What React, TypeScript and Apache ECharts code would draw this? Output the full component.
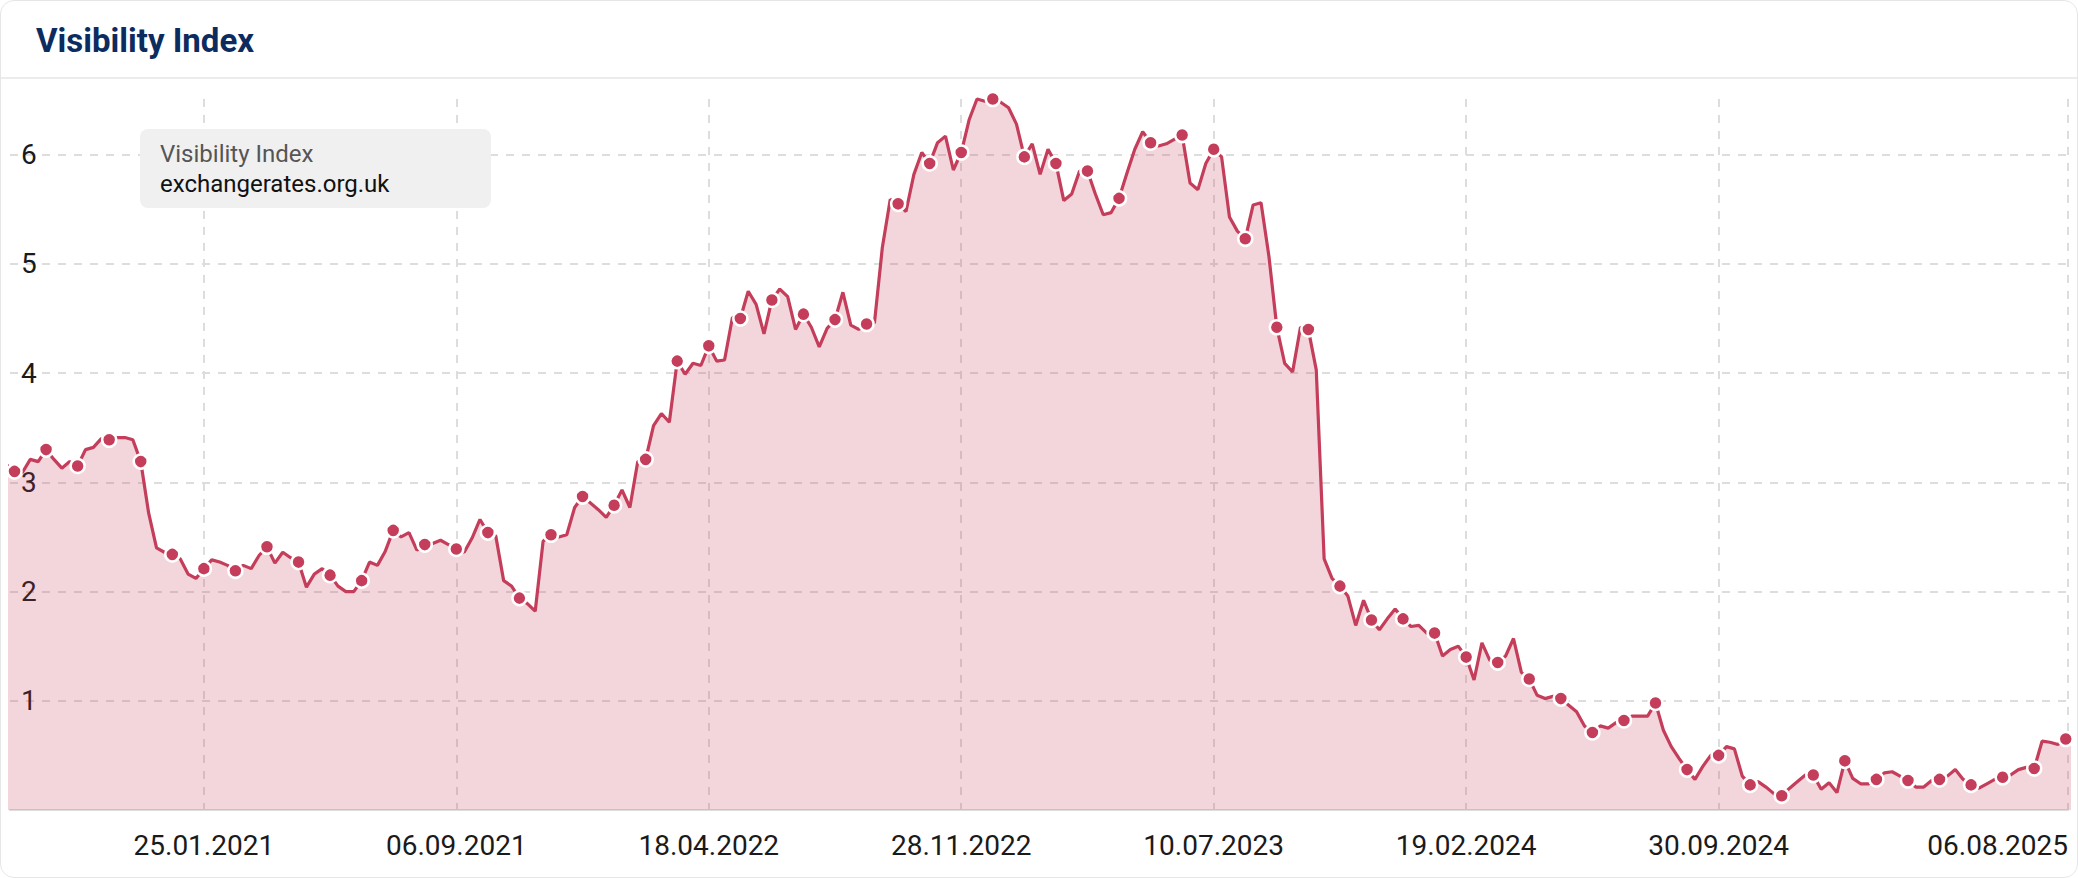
import React, { useEffect, useRef } from "react";
import * as echarts from "echarts";

// ---- data (weekly values, Mondays, first week 27.07.2020) ----
const firstWeek = "27.07.2020";
const values2020 = [3.16, 3.16, 3.1, 3.09, 3.21, 3.19, 3.3, 3.21, 3.13, 3.19, 3.15, 3.3, 3.32, 3.4, 3.39, 3.41, 3.41, 3.39, 3.19, 2.72, 2.4, 2.36, 2.34];
const values2021 = [2.3, 2.16, 2.12, 2.21, 2.29, 2.27, 2.24, 2.19, 2.24, 2.21, 2.33, 2.41, 2.26, 2.36, 2.31, 2.27, 2.04, 2.16, 2.21, 2.15, 2.05, 2.0, 2.0, 2.1, 2.27, 2.24, 2.37, 2.56, 2.5, 2.54, 2.38, 2.43, 2.44, 2.47, 2.43, 2.39, 2.36, 2.49, 2.66, 2.54, 2.51, 2.1, 2.05, 1.94, 1.89, 1.82, 2.46, 2.52, 2.5, 2.52, 2.77, 2.87];
const values2022 = [2.81, 2.75, 2.68, 2.79, 2.93, 2.77, 3.19, 3.21, 3.52, 3.63, 3.55, 4.11, 3.99, 4.09, 4.07, 4.25, 4.11, 4.12, 4.51, 4.5, 4.75, 4.63, 4.36, 4.67, 4.77, 4.7, 4.4, 4.54, 4.42, 4.24, 4.41, 4.49, 4.74, 4.44, 4.4, 4.45, 4.46, 5.15, 5.59, 5.55, 5.48, 5.82, 6.02, 5.92, 6.11, 6.17, 5.86, 6.02, 6.32, 6.51, 6.49, 6.51];
const values2023 = [6.48, 6.43, 6.28, 5.98, 6.1, 5.82, 6.05, 5.92, 5.58, 5.64, 5.85, 5.85, 5.64, 5.45, 5.47, 5.6, 5.83, 6.05, 6.21, 6.11, 6.08, 6.1, 6.14, 6.18, 5.74, 5.68, 5.92, 6.05, 5.98, 5.43, 5.3, 5.23, 5.54, 5.56, 5.07, 4.42, 4.09, 4.01, 4.42, 4.4, 4.03, 2.3, 2.12, 2.05, 1.96, 1.69, 1.92, 1.74, 1.65, 1.75, 1.84, 1.75];
const values2024 = [1.68, 1.69, 1.62, 1.62, 1.41, 1.47, 1.5, 1.4, 1.19, 1.53, 1.37, 1.35, 1.41, 1.57, 1.26, 1.2, 1.05, 1.02, 1.04, 1.02, 0.96, 0.9, 0.77, 0.71, 0.77, 0.75, 0.8, 0.82, 0.86, 0.86, 0.86, 0.98, 0.73, 0.58, 0.47, 0.37, 0.28, 0.4, 0.5, 0.5, 0.58, 0.56, 0.31, 0.23, 0.26, 0.21, 0.15, 0.13, 0.2, 0.26, 0.32, 0.32, 0.19];
const values2025 = [0.25, 0.16, 0.45, 0.29, 0.24, 0.24, 0.28, 0.34, 0.35, 0.31, 0.27, 0.21, 0.21, 0.27, 0.28, 0.31, 0.37, 0.28, 0.23, 0.2, 0.24, 0.28, 0.3, 0.32, 0.37, 0.39, 0.38, 0.63, 0.62, 0.6, 0.65, 0.65];

const xTickLabels = ["25.01.2021", "06.09.2021", "18.04.2022", "28.11.2022", "10.07.2023", "19.02.2024", "30.09.2024", "06.08.2025"];
const axisStart = "06.08.2020";
const axisEnd = "06.08.2025";
const yTickValues = [1, 2, 3, 4, 5, 6];

const titleText = "Visibility Index";
const legendLabel = "Visibility Index";
const domainName = "exchangerates.org.uk";

// ---- helpers ----
function parseDate(s: string): number {
  const [d, m, y] = s.split(".").map(Number);
  return new Date(y, m - 1, d).getTime();
}
function fmtDate(ts: number): string {
  const d = new Date(ts);
  const p = (n: number) => (n < 10 ? "0" + n : "" + n);
  return p(d.getDate()) + "." + p(d.getMonth() + 1) + "." + d.getFullYear();
}

const W = 2078;
const H = 878;
const LINE = "#c43d5a";

export default function App() {
  const ref = useRef<HTMLDivElement>(null);

  useEffect(() => {
    if (!ref.current) return;
    const chart = echarts.init(ref.current, undefined, { renderer: "svg" });

    const allValues = [...values2020, ...values2021, ...values2022, ...values2023, ...values2024, ...values2025];
    const [fd, fm, fy] = firstWeek.split(".").map(Number);
    const seriesData = allValues.map((v, i) => [new Date(fy, fm - 1, fd + 7 * i).getTime(), v]);
    const tickTs = xTickLabels.map(parseDate);
    const yMax = Math.max(...allValues);

    chart.setOption({
      animation: false,
      textStyle: { fontFamily: "Roboto" },
      grid: { left: 10, right: 10, top: 99, bottom: 68, containLabel: false },
      xAxis: {
        type: "value",
        min: parseDate(axisStart),
        max: parseDate(axisEnd),
        axisLine: { show: true, lineStyle: { color: "#dddddd", width: 2 } },
        axisTick: { show: false, customValues: tickTs },
        axisLabel: {
          customValues: tickTs,
          formatter: (v: number) => fmtDate(v),
          color: "#1a1a1a",
          fontSize: 28,
          fontFamily: "Roboto",
          margin: 21,
          alignMaxLabel: "right",
          hideOverlap: false,
        },
        splitLine: { show: true, lineStyle: { color: "#dddddd", width: 2, type: [8, 8] } },
      },
      yAxis: {
        type: "value",
        min: 0,
        max: yMax,
        interval: 1,
        axisLine: { show: false },
        axisTick: { show: false },
        axisLabel: {
          inside: true,
          margin: 11,
          color: "#1a1a1a",
          fontSize: 28,
          fontFamily: "Roboto",
          showMinLabel: false,
          formatter: (v: number) => (yTickValues.indexOf(v) >= 0 ? String(v) : ""),
        },
        splitLine: { show: true, showMinLine: false, showMaxLine: false, lineStyle: { color: "#dddddd", width: 2, type: [8, 8] } },
      },
      series: [
        {
          type: "line",
          name: domainName,
          data: seriesData,
          clip: false,
          showSymbol: true,
          symbol: (_v: any, params: any) => (params.dataIndex % 4 === 2 ? "circle" : "none"),
          symbolSize: 14,
          lineStyle: { color: LINE, width: 3.2 },
          itemStyle: { color: LINE, borderColor: "#ffffff", borderWidth: 2.5 },
          areaStyle: { color: "rgba(196,61,90,0.21)", opacity: 1 },
          z: 3,
        },
      ],
      graphic: [
        {
          type: "line",
          shape: { x1: 0, y1: 78, x2: W, y2: 78 },
          style: { stroke: "#ececec", lineWidth: 2 },
          silent: true,
        },
        {
          type: "text",
          x: 36,
          y: 40,
          style: {
            text: titleText,
            fill: "#0c2b5e",
            font: "bold 33px Roboto",
            verticalAlign: "middle",
            align: "left",
          },
        },
        {
          type: "rect",
          shape: { x: 140, y: 129, width: 351, height: 79, r: 8 },
          style: { fill: "#f0f0f0" },
          z: 10,
        },
        {
          type: "text",
          x: 160,
          y: 154,
          z: 11,
          style: { text: legendLabel, fill: "#555555", font: "24px Roboto", verticalAlign: "middle", align: "left" },
        },
        {
          type: "text",
          x: 160,
          y: 184,
          z: 11,
          style: { text: domainName, fill: "#111111", font: "24px Roboto", verticalAlign: "middle", align: "left" },
        },
      ],
    });

    return () => chart.dispose();
  }, []);

  return (
    <div
      style={{
        position: "fixed",
        left: 0,
        top: 0,
        width: W,
        height: H,
        boxSizing: "border-box",
        background: "#ffffff",
        border: "1px solid #e6e6e6",
        borderRadius: 14,
        overflow: "hidden",
      }}
    >
      <div ref={ref} style={{ position: "absolute", left: -1, top: -1, width: W, height: H }} />
    </div>
  );
}
